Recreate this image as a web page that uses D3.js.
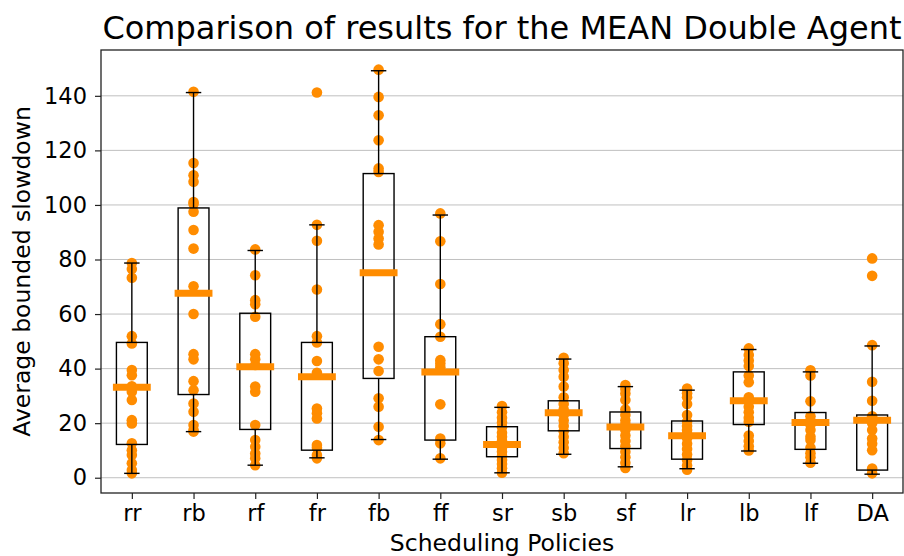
<!DOCTYPE html>
<html>
<head>
	<meta charset="utf-8">
	<title>Comparison of results for the MEAN Double Agent</title>
	<script src="https://cdn.jsdelivr.net/npm/d3@7"></script>
	<style type="text/css">
		html, body {
			margin: 0;
			padding: 0;
			background: white;
		}
		svg {
			display: block;
			font-family: 'DejaVu Sans', sans-serif;
		}
		.tick text {
			font-size: 22.5px;
			fill: #000;
		}
	</style>
</head>
<body>

<div id="vis"></div>

<script type="text/javascript">

// policies on the x axis
var policies = ["rr", "rb", "rf", "fr", "fb", "ff", "sr", "sb", "sf", "lr", "lb", "lf", "DA"];

// box statistics
var whiskerLow  = [1.6, 16.9, 4.6, 7.3, 14.0, 6.8, 1.8, 8.6, 4.0, 3.3, 9.8, 5.3, 1.3];
var quart1      = [12.2, 30.5, 17.7, 10.1, 36.4, 13.8, 7.7, 17.2, 10.7, 6.8, 19.5, 10.4, 2.8];
var medians     = [33.2, 67.6, 40.7, 37.0, 75.1, 38.8, 12.2, 23.8, 18.6, 15.4, 28.2, 20.2, 21.1];
var quart3      = [49.6, 98.9, 60.3, 49.6, 111.5, 51.7, 18.7, 28.2, 24.1, 20.8, 38.8, 23.9, 23.0];
var whiskerHigh = [78.7, 141.2, 83.3, 92.7, 149.2, 96.3, 25.8, 43.5, 33.4, 32.1, 47.0, 38.8, 48.3];

// single runs per policy
var runsRR = [78.7, 76.5, 73.3, 51.9, 49.2, 39.5, 37.6, 33.5, 31.5, 28.5, 21.1, 19.9, 12.6, 10.1, 8.3, 5.3, 2.8, 1.6];
var runsRB = [141.5, 115.4, 110.9, 108.5, 101.1, 100.3, 97.5, 90.8, 84.0, 70.2, 60.0, 45.3, 43.4, 35.4, 32.1, 27.2, 24.2, 19.3, 17.5, 16.9];
var runsRF = [83.7, 74.2, 65.1, 63.6, 59.0, 45.3, 43.4, 41.3, 33.4, 31.5, 19.3, 13.8, 11.4, 8.9, 7.1, 4.6];
var runsFR = [141.2, 92.7, 86.9, 69.0, 51.9, 49.6, 42.8, 38.5, 25.4, 23.6, 21.7, 12.0, 11.0, 8.3, 7.1];
var runsFB = [149.6, 139.6, 132.9, 123.7, 113.4, 112.1, 92.6, 90.2, 87.7, 85.5, 48.0, 43.4, 39.1, 29.1, 26.0, 18.7, 13.8];
var runsFF = [96.9, 86.7, 71.0, 56.3, 51.7, 43.1, 41.9, 40.5, 26.9, 14.4, 12.6, 7.1];
var runsSR = [26.3, 24.0, 22.0, 20.2, 18.5, 16.5, 15.0, 13.5, 12.5, 11.0, 9.5, 8.0, 6.5, 5.0, 3.5, 1.8];
var runsSB = [44.0, 42.0, 39.5, 37.0, 33.4, 29.5, 27.0, 25.0, 23.0, 21.0, 19.0, 17.0, 15.0, 13.0, 11.0, 9.0];
var runsSF = [34.0, 32.5, 30.9, 28.5, 25.0, 23.0, 21.0, 19.5, 17.5, 15.5, 13.5, 11.5, 9.5, 7.5, 5.5, 3.6];
var runsLR = [32.7, 31.0, 29.5, 27.0, 23.0, 20.5, 19.0, 17.5, 16.0, 14.5, 12.5, 10.5, 8.5, 6.5, 4.5, 2.9];
var runsLB = [47.4, 45.0, 43.0, 41.0, 37.5, 35.0, 29.5, 28.0, 26.0, 24.0, 22.0, 20.5, 15.5, 13.5, 11.5, 10.0];
var runsLF = [39.4, 37.5, 28.0, 22.5, 21.0, 19.5, 17.5, 15.0, 13.8, 11.0, 9.0, 7.5, 5.5];
var runsDA = [80.4, 74.0, 48.6, 35.2, 28.2, 22.5, 20.0, 17.5, 14.4, 12.5, 10.1, 3.4, 1.6];

var yTicks = [0, 20, 40, 60, 80, 100, 120, 140];

var allRuns = [runsRR, runsRB, runsRF, runsFR, runsFB, runsFF, runsSR, runsSB, runsSF, runsLR, runsLB, runsLF, runsDA];

var width = 904;
var height = 556;
var margin = {top: 50, right: 1, bottom: 63, left: 101};

var orange = "#ff8c00";

var svg = d3.select("#vis").append("svg")
	.attr("width", width)
	.attr("height", height);

var x = d3.scaleLinear()
	.domain([0.5, policies.length + 0.5])
	.range([margin.left, width - margin.right]);

var y = d3.scaleLinear()
	.domain([-5.6, 156.8])
	.range([height - margin.bottom, margin.top]);

var boxW = x(1.25) - x(1);   // half of 0.5
var capW = x(1.125) - x(1);  // half of 0.25

// horizontal grid
svg.append("g")
	.selectAll("line")
	.data(yTicks)
	.join("line")
	.attr("x1", x.range()[0])
	.attr("x2", x.range()[1])
	.attr("y1", d => y(d))
	.attr("y2", d => y(d))
	.attr("stroke", "#b0b0b0")
	.attr("stroke-width", 1)
	.attr("stroke-opacity", 0.8);

// dots
var pts = [];
allRuns.forEach(function(arr, i) {
	arr.forEach(function(v) {
		pts.push({i: i + 1, v: v});
	});
});

svg.append("g")
	.selectAll("circle")
	.data(pts)
	.join("circle")
	.attr("cx", d => x(d.i))
	.attr("cy", d => y(d.v))
	.attr("r", 5.3)
	.attr("fill", orange);

// boxes
var boxes = svg.append("g")
	.selectAll("g")
	.data(policies)
	.join("g")
	.attr("fill", "none")
	.attr("stroke", "#000")
	.attr("stroke-width", 1.4);

boxes.append("rect")
	.attr("x", (d, i) => x(i + 1) - boxW)
	.attr("width", boxW * 2)
	.attr("y", (d, i) => y(quart3[i]))
	.attr("height", (d, i) => y(quart1[i]) - y(quart3[i]));

// whiskers
boxes.append("line")
	.attr("x1", (d, i) => x(i + 1))
	.attr("x2", (d, i) => x(i + 1))
	.attr("y1", (d, i) => y(quart3[i]))
	.attr("y2", (d, i) => y(whiskerHigh[i]));

boxes.append("line")
	.attr("x1", (d, i) => x(i + 1))
	.attr("x2", (d, i) => x(i + 1))
	.attr("y1", (d, i) => y(quart1[i]))
	.attr("y2", (d, i) => y(whiskerLow[i]));

// caps
boxes.append("line")
	.attr("x1", (d, i) => x(i + 1) - capW)
	.attr("x2", (d, i) => x(i + 1) + capW)
	.attr("y1", (d, i) => y(whiskerHigh[i]))
	.attr("y2", (d, i) => y(whiskerHigh[i]));

boxes.append("line")
	.attr("x1", (d, i) => x(i + 1) - capW)
	.attr("x2", (d, i) => x(i + 1) + capW)
	.attr("y1", (d, i) => y(whiskerLow[i]))
	.attr("y2", (d, i) => y(whiskerLow[i]));

// medians
svg.append("g")
	.selectAll("line")
	.data(medians)
	.join("line")
	.attr("x1", (d, i) => x(i + 1) - boxW)
	.attr("x2", (d, i) => x(i + 1) + boxW)
	.attr("y1", d => y(d))
	.attr("y2", d => y(d))
	.attr("stroke", orange)
	.attr("stroke-width", 7)
	.attr("stroke-linecap", "square");

// axes
var yAxis = svg.append("g")
	.attr("transform", "translate(" + margin.left + ",0)")
	.call(d3.axisLeft(y).tickValues(yTicks).tickSize(6).tickPadding(8));

var xAxis = svg.append("g")
	.attr("transform", "translate(0," + (height - margin.bottom) + ")")
	.call(d3.axisBottom(x)
		.tickValues(d3.range(1, policies.length + 1))
		.tickFormat(d => policies[d - 1])
		.tickSize(6).tickPadding(6));

[xAxis, yAxis].forEach(function(a) {
	a.select(".domain").remove();
	a.selectAll(".tick line").attr("stroke", "#222").attr("stroke-width", 1.2);
	a.selectAll(".tick text").attr("font-family", "'DejaVu Sans', sans-serif");
});

// frame
svg.append("rect")
	.attr("x", x.range()[0])
	.attr("y", y.range()[1])
	.attr("width", x.range()[1] - x.range()[0])
	.attr("height", y.range()[0] - y.range()[1])
	.attr("fill", "none")
	.attr("stroke", "#222")
	.attr("stroke-width", 1.3);

// texts
var cx = (x.range()[0] + x.range()[1]) / 2;

svg.append("text")
	.attr("x", cx)
	.attr("y", 39)
	.attr("text-anchor", "middle")
	.style("font-size", "32px")
	.text("Comparison of results for the MEAN Double Agent");

svg.append("text")
	.attr("x", cx)
	.attr("y", 551)
	.attr("text-anchor", "middle")
	.style("font-size", "23.5px")
	.text("Scheduling Policies");

svg.append("text")
	.attr("transform", "translate(30," + ((y.range()[0] + y.range()[1]) / 2) + ") rotate(-90)")
	.attr("text-anchor", "middle")
	.style("font-size", "23.5px")
	.text("Average bounded slowdown");

</script>

</body>
</html>
